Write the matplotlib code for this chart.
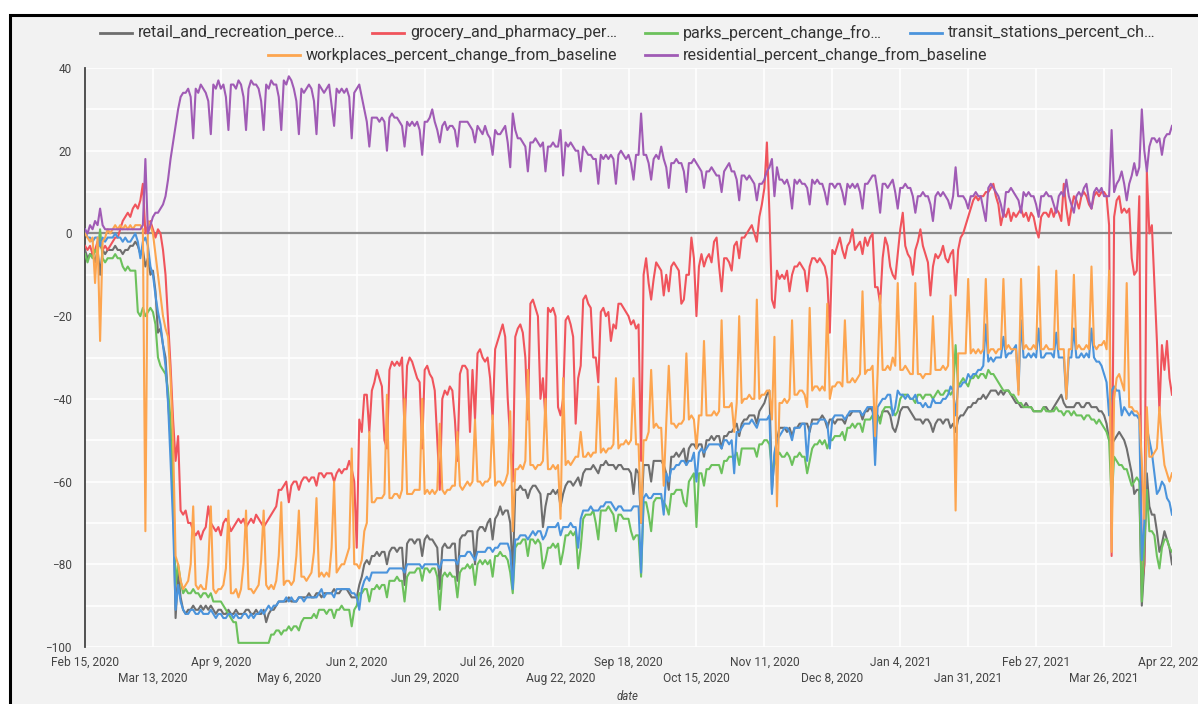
import matplotlib
matplotlib.use('Agg')
import matplotlib.pyplot as plt
from matplotlib.lines import Line2D
from matplotlib.patches import Rectangle
import pandas as pd

plt.rcParams['font.family'] = ['Roboto', 'DejaVu Sans']

# one value per day, Feb 15 2020 .. Apr 22 2021, one row per week (Sat..Fri)
dates = pd.date_range('2020-02-15', '2021-04-22', freq='D')

retail = [
    -4, -6, -5, -5, -7, -4, -10,
    -4, -5, -4, -4, -4, -3, -4,
    -4, -5, -4, -4, -3, -3, -2,
    -3, -5, -4, -8, -6, -10, -9,
    -14, -24, -23, -27, -30, -40, -50,
    -62, -93, -82, -88, -91, -92, -91,
    -91, -90, -91, -91, -90, -91, -90,
    -91, -90, -91, -92, -91, -91, -92,
    -92, -91, -92, -92, -91, -92, -92,
    -92, -91, -91, -92, -92, -91, -92,
    -92, -91, -94, -92, -91, -91, -90,
    -89, -89, -89, -89, -88, -89, -89,
    -89, -88, -88, -88, -88, -87, -88,
    -88, -87, -87, -88, -87, -87, -87,
    -87, -86, -87, -87, -86, -86, -86,
    -87, -88, -88, -88, -85, -83, -80,
    -79, -80, -78, -78, -77, -78, -77,
    -77, -80, -77, -76, -76, -77, -76,
    -76, -85, -75, -74, -74, -75, -74,
    -74, -78, -74, -73, -74, -74, -75,
    -76, -86, -76, -75, -76, -76, -75,
    -75, -84, -74, -73, -73, -72, -72,
    -72, -80, -72, -71, -71, -72, -70,
    -69, -74, -69, -68, -66, -68, -67,
    -67, -70, -82, -62, -62, -61, -62,
    -62, -64, -62, -61, -61, -62, -63,
    -71, -66, -63, -63, -62, -63, -62,
    -66, -63, -61, -60, -60, -61, -60,
    -59, -61, -58, -57, -57, -57, -56,
    -57, -58, -56, -56, -55, -56, -56,
    -56, -57, -56, -56, -57, -57, -57,
    -58, -63, -57, -58, -70, -56, -56,
    -56, -60, -55, -55, -55, -55, -56,
    -58, -62, -54, -54, -53, -54, -53,
    -52, -56, -52, -51, -51, -52, -51,
    -51, -54, -50, -50, -49, -50, -49,
    -49, -52, -49, -49, -48, -48, -47,
    -46, -49, -46, -45, -45, -44, -44,
    -44, -46, -43, -42, -41, -39, -38,
    -62, -54, -50, -47, -47, -47, -48,
    -47, -49, -47, -47, -46, -46, -46,
    -46, -48, -45, -45, -45, -45, -44,
    -45, -47, -45, -45, -46, -45, -45,
    -45, -46, -44, -44, -43, -43, -43,
    -43, -45, -43, -43, -42, -43, -45,
    -44, -45, -43, -43, -43, -44, -47,
    -48, -46, -43, -42, -42, -42, -43,
    -44, -45, -45, -45, -46, -45, -45,
    -46, -48, -46, -45, -45, -46, -45,
    -45, -47, -46, -48, -45, -44, -44,
    -43, -42, -42, -41, -41, -40, -40,
    -39, -40, -39, -38, -38, -38, -39,
    -38, -39, -38, -38, -39, -40, -41,
    -41, -42, -42, -41, -42, -42, -43,
    -43, -43, -43, -42, -42, -43, -43,
    -42, -41, -40, -39, -41, -42, -42,
    -42, -42, -41, -41, -42, -42, -41,
    -41, -42, -42, -42, -43, -43, -44,
    -46, -50, -51, -50, -49, -48, -49,
    -50, -52, -55, -58, -63, -62, -62,
    -90, -80, -58, -66, -68, -68, -72,
    -77, -75, -72, -74, -76, -80,
]

grocery = [
    -3, -4, -3, -5, -4, -2, -3,
    -4, -3, -4, -3, -2, -1, -1,
    1, 3, 4, 5, 4, 6, 7,
    6, 8, 12, 0, 2, 3, 1,
    -1, 1, 0, -4, -10, -21, -32,
    -45, -55, -49, -67, -68, -67, -70,
    -70, -72, -73, -72, -74, -72, -71,
    -66, -70, -71, -72, -71, -73, -70,
    -69, -70, -72, -71, -70, -69, -70,
    -69, -71, -70, -69, -70, -68, -69,
    -70, -71, -70, -69, -68, -67, -66,
    -62, -62, -61, -60, -65, -61, -60,
    -60, -62, -60, -59, -59, -60, -59,
    -59, -61, -58, -58, -59, -58, -58,
    -58, -60, -58, -57, -58, -57, -57,
    -55, -57, -60, -76, -45, -48, -39,
    -39, -48, -38, -36, -33, -35, -37,
    -50, -52, -33, -31, -32, -31, -32,
    -30, -48, -32, -30, -31, -33, -35,
    -36, -52, -33, -32, -34, -35, -38,
    -50, -62, -40, -38, -39, -37, -38,
    -45, -55, -34, -32, -32, -33, -48,
    -33, -45, -29, -28, -30, -31, -30,
    -35, -45, -28, -26, -24, -22, -25,
    -40, -50, -60, -25, -23, -22, -24,
    -30, -45, -17, -16, -18, -20, -40,
    -35, -45, -18, -19, -18, -20, -42,
    -44, -40, -21, -20, -22, -25, -46,
    -35, -32, -16, -15, -17, -18, -30,
    -30, -36, -19, -18, -20, -19, -26,
    -22, -23, -17, -17, -18, -19, -20,
    -22, -21, -23, -22, -55, -10, -6,
    -12, -16, -11, -7, -8, -9, -15,
    -10, -14, -8, -7, -8, -9, -17,
    -16, -10, -10, -1, -6, -20, -8,
    -5, -8, -6, -5, -7, -2, -1,
    -8, -14, -6, -6, -7, -9, -3,
    -2, -6, -1, -1, 0, 1, 2,
    0, -2, 4, 7, 11, 22, 5,
    -16, -18, -9, -11, -10, -11, -9,
    -14, -10, -8, -8, -7, -8, -9,
    -14, -8, -6, -6, -7, -6, -7,
    -8, -11, -24, -4, -5, -3, -1,
    -4, -6, -3, -2, 1, -4, -3,
    -2, -5, -1, -3, -1, 0, -13,
    -13, -17, -6, -1, -3, -8, -10,
    -11, -5, 1, 5, -3, -5, -6,
    -10, -4, -2, 1, -3, -5, -7,
    -15, -8, -5, -6, -5, -3, -6,
    -7, -5, -4, -15, -4, -1, 0,
    2, 4, 6, 8, 9, 8, 9,
    9, 10, 10, 11, 12, 9, 7,
    2, 5, 4, 6, 3, 5, 4,
    5, 6, 4, 5, 3, 5, 4,
    1, -1, 4, 5, 5, 4, 6,
    4, 6, 5, 3, 12, 6, 2,
    6, 9, 8, 6, 9, 10, 9,
    7, 6, 9, 10, 9, 10, 10,
    9, 2, -78, 4, 8, 9, 5,
    6, 5, 6, -6, -10, -9, 9,
    -85, -80, 15, 0, 2, -12, -26,
    -43, -27, -33, -26, -35, -39,
]

parks = [
    -5, -7, -5, -6, -4, -5, 1,
    -6, -7, -6, -6, -6, -5, -6,
    -6, -8, -9, -8, -9, -9, -9,
    -19, -20, -18, -20, -19, -18, -19,
    -22, -30, -32, -33, -34, -38, -45,
    -60, -85, -80, -84, -87, -86, -87,
    -87, -86, -87, -87, -88, -87, -87,
    -88, -87, -89, -89, -89, -89, -90,
    -91, -92, -93, -94, -94, -99, -99,
    -99, -99, -99, -99, -99, -99, -99,
    -99, -99, -99, -99, -97, -97, -96,
    -96, -97, -96, -96, -95, -96, -95,
    -95, -96, -94, -93, -93, -93, -93,
    -92, -93, -91, -91, -91, -92, -91,
    -91, -93, -91, -91, -90, -91, -91,
    -91, -95, -91, -90, -87, -87, -86,
    -86, -89, -86, -86, -85, -86, -85,
    -85, -88, -84, -84, -84, -83, -84,
    -84, -89, -83, -82, -82, -82, -81,
    -81, -84, -81, -81, -82, -81, -81,
    -83, -91, -83, -82, -83, -82, -83,
    -83, -88, -82, -81, -81, -80, -81,
    -80, -85, -80, -79, -80, -79, -80,
    -79, -83, -78, -78, -77, -78, -78,
    -79, -82, -87, -76, -75, -75, -74,
    -74, -78, -74, -74, -75, -74, -75,
    -81, -79, -76, -76, -75, -76, -75,
    -80, -77, -73, -73, -72, -73, -72,
    -81, -76, -69, -68, -68, -68, -67,
    -70, -74, -67, -67, -67, -66, -67,
    -68, -72, -68, -68, -69, -69, -69,
    -72, -74, -73, -73, -83, -65, -65,
    -68, -72, -65, -64, -64, -64, -65,
    -66, -68, -63, -63, -62, -62, -62,
    -65, -66, -60, -59, -58, -71, -58,
    -58, -61, -57, -57, -56, -56, -56,
    -56, -58, -55, -55, -54, -54, -54,
    -53, -56, -52, -52, -52, -52, -52,
    -52, -54, -51, -51, -50, -50, -51,
    -57, -56, -54, -53, -54, -54, -53,
    -54, -56, -54, -54, -53, -54, -54,
    -58, -55, -52, -51, -51, -50, -51,
    -50, -52, -50, -50, -49, -49, -49,
    -48, -50, -47, -47, -46, -47, -46,
    -46, -48, -45, -45, -45, -44, -47,
    -44, -46, -43, -42, -42, -42, -43,
    -44, -43, -40, -39, -39, -39, -40,
    -40, -41, -39, -39, -40, -39, -39,
    -39, -40, -39, -38, -39, -39, -38,
    -38, -39, -38, -27, -37, -36, -35,
    -36, -37, -35, -35, -34, -35, -34,
    -34, -35, -33, -34, -34, -35, -36,
    -37, -38, -38, -38, -39, -39, -40,
    -41, -41, -42, -42, -42, -42, -43,
    -43, -43, -43, -42, -43, -43, -43,
    -43, -42, -43, -43, -44, -43, -43,
    -44, -43, -44, -44, -44, -45, -44,
    -44, -45, -45, -46, -45, -46, -47,
    -48, -50, -65, -54, -55, -56, -56,
    -57, -57, -59, -61, -60, -59, -60,
    -89, -75, -62, -72, -72, -73, -78,
    -81, -76, -74, -74, -76, -77,
]

transit = [
    1, -1, -1, -2, -1, -1, -3,
    -1, -2, -1, -1, -1, 0, -1,
    -1, -2, -1, -2, -2, -1, 0,
    -2, -6, -2, -1, -3, -8, -10,
    -15, -19, -22, -27, -32, -41, -55,
    -70, -91, -85, -89, -91, -92, -92,
    -91, -91, -92, -92, -91, -92, -92,
    -92, -91, -92, -93, -92, -92, -93,
    -93, -92, -92, -93, -92, -93, -93,
    -92, -92, -93, -92, -93, -92, -92,
    -91, -92, -91, -90, -91, -90, -90,
    -89, -89, -89, -88, -89, -88, -89,
    -89, -88, -88, -89, -88, -88, -88,
    -88, -88, -87, -86, -88, -87, -87,
    -87, -88, -86, -86, -86, -86, -86,
    -86, -87, -87, -88, -91, -86, -84,
    -83, -84, -82, -82, -82, -82, -82,
    -82, -82, -81, -81, -81, -81, -81,
    -81, -82, -80, -80, -80, -80, -80,
    -80, -81, -80, -80, -80, -80, -80,
    -80, -81, -79, -79, -79, -79, -79,
    -79, -80, -78, -78, -78, -77, -77,
    -78, -79, -77, -77, -77, -77, -76,
    -76, -77, -76, -76, -75, -75, -75,
    -75, -77, -86, -74, -74, -73, -73,
    -73, -74, -73, -72, -73, -72, -72,
    -74, -73, -71, -71, -71, -71, -70,
    -73, -71, -71, -71, -70, -71, -71,
    -76, -69, -67, -67, -67, -66, -67,
    -67, -67, -66, -66, -65, -65, -65,
    -66, -67, -66, -66, -67, -67, -67,
    -67, -66, -66, -66, -82, -64, -63,
    -64, -64, -63, -63, -63, -63, -68,
    -58, -60, -57, -57, -56, -56, -55,
    -55, -56, -55, -55, -53, -60, -53,
    -52, -53, -52, -51, -51, -51, -51,
    -51, -52, -50, -50, -51, -50, -58,
    -48, -48, -47, -46, -46, -46, -45,
    -46, -47, -45, -45, -45, -45, -44,
    -63, -53, -50, -49, -48, -47, -47,
    -48, -50, -47, -47, -47, -46, -46,
    -55, -47, -46, -46, -46, -45, -45,
    -45, -46, -52, -45, -44, -44, -44,
    -44, -45, -44, -43, -43, -43, -43,
    -43, -44, -43, -42, -42, -42, -56,
    -42, -41, -40, -40, -39, -39, -44,
    -42, -38, -39, -39, -40, -39, -40,
    -40, -39, -41, -41, -42, -41, -42,
    -42, -40, -41, -41, -41, -40, -40,
    -39, -37, -38, -44, -37, -37, -36,
    -36, -34, -35, -34, -34, -33, -33,
    -32, -22, -31, -30, -31, -30, -30,
    -30, -25, -30, -29, -29, -28, -27,
    -38, -21, -30, -30, -29, -30, -29,
    -30, -23, -30, -30, -29, -29, -29,
    -30, -24, -30, -30, -30, -40, -30,
    -30, -23, -30, -30, -29, -30, -29,
    -30, -23, -30, -31, -31, -32, -34,
    -36, -44, -38, -37, -38, -38, -44,
    -42, -43, -44, -43, -44, -44, -45,
    -79, -70, -47, -50, -53, -58, -63,
    -62, -60, -61, -64, -65, -68,
]

workplaces = [
    0, -1, -2, -1, -12, -1, -26,
    -2, -1, 1, 0, 1, 2, 1,
    2, 1, 2, 1, 2, 1, 2,
    2, 2, 1, -72, 3, 2, 0,
    -5, -10, -15, -20, -23, -25, -35,
    -50, -78, -80, -84, -86, -85, -84,
    -80, -66, -85, -86, -85, -86, -86,
    -80, -66, -86, -87, -86, -86, -85,
    -81, -67, -87, -87, -86, -88, -86,
    -80, -67, -86, -86, -87, -86, -85,
    -79, -67, -85, -86, -85, -86, -84,
    -78, -65, -85, -84, -84, -85, -84,
    -78, -67, -83, -83, -84, -83, -82,
    -77, -64, -83, -82, -83, -82, -83,
    -76, -60, -82, -81, -80, -80, -78,
    -76, -52, -80, -80, -81, -79, -72,
    -70, -48, -65, -65, -64, -64, -64,
    -63, -39, -64, -64, -63, -63, -64,
    -62, -40, -63, -63, -63, -62, -62,
    -62, -40, -63, -62, -63, -62, -63,
    -62, -46, -62, -63, -62, -62, -61,
    -61, -48, -61, -62, -61, -60, -61,
    -60, -45, -60, -60, -61, -60, -60,
    -59, -44, -61, -60, -60, -61, -60,
    -58, -43, -72, -57, -57, -56, -57,
    -55, -33, -56, -56, -57, -56, -56,
    -55, -40, -57, -57, -56, -57, -56,
    -69, -35, -56, -55, -56, -55, -54,
    -54, -48, -54, -54, -53, -54, -53,
    -53, -37, -53, -52, -53, -52, -52,
    -51, -35, -52, -51, -51, -50, -51,
    -50, -35, -51, -51, -70, -50, -50,
    -48, -33, -47, -46, -47, -47, -61,
    -46, -32, -46, -46, -47, -46, -46,
    -45, -29, -45, -44, -45, -52, -44,
    -44, -26, -44, -44, -44, -43, -44,
    -43, -21, -42, -42, -42, -41, -48,
    -41, -20, -41, -40, -40, -39, -40,
    -40, -16, -40, -39, -39, -38, -38,
    -45, -25, -66, -41, -41, -40, -41,
    -40, -21, -39, -39, -38, -38, -39,
    -42, -18, -38, -37, -37, -38, -37,
    -38, -17, -40, -37, -37, -36, -36,
    -37, -21, -36, -36, -35, -36, -35,
    -34, -14, -34, -33, -33, -32, -49,
    -34, -15, -33, -33, -32, -33, -30,
    -32, -12, -33, -33, -32, -33, -34,
    -34, -12, -34, -34, -35, -34, -34,
    -34, -20, -33, -33, -33, -32, -33,
    -32, -15, -30, -67, -29, -29, -29,
    -29, -11, -29, -28, -29, -28, -29,
    -28, -11, -29, -28, -28, -29, -28,
    -28, -11, -28, -27, -28, -28, -28,
    -39, -11, -28, -27, -28, -28, -27,
    -28, -8, -28, -28, -27, -28, -28,
    -28, -9, -28, -28, -28, -40, -28,
    -28, -10, -28, -27, -28, -28, -27,
    -28, -8, -27, -28, -27, -27, -26,
    -28, -9, -77, -40, -35, -34, -36,
    -38, -12, -42, -42, -43, -43, -44,
    -55, -69, -42, -54, -54, -53, -52,
    -42, -50, -56, -58, -60, -58,
]

residential = [
    1, 0, 2, 1, 3, 2, 6,
    2, 1, 1, 1, 1, 1, 1,
    1, 1, 1, 1, 1, 1, 1,
    1, 1, 2, 18, 0, 2, 4,
    5, 5, 6, 7, 9, 13, 18,
    22, 26, 30, 33, 34, 34, 35,
    33, 23, 35, 34, 36, 35, 34,
    32, 24, 36, 35, 37, 35, 36,
    33, 25, 36, 36, 35, 37, 36,
    33, 25, 35, 37, 36, 36, 35,
    32, 25, 36, 35, 37, 36, 36,
    33, 25, 37, 36, 38, 37, 35,
    32, 24, 35, 34, 35, 36, 35,
    32, 24, 36, 35, 34, 35, 36,
    31, 26, 35, 34, 35, 34, 35,
    33, 23, 34, 35, 36, 33, 30,
    27, 21, 28, 28, 28, 27, 28,
    27, 20, 28, 29, 28, 28, 27,
    26, 21, 27, 26, 27, 26, 27,
    25, 19, 27, 27, 28, 30, 27,
    25, 22, 26, 27, 25, 26, 26,
    25, 21, 27, 27, 27, 27, 26,
    25, 22, 26, 25, 24, 26, 24,
    23, 19, 25, 24, 24, 25, 26,
    22, 16, 29, 25, 23, 23, 22,
    21, 15, 22, 22, 23, 22, 21,
    22, 15, 21, 21, 22, 21, 21,
    25, 14, 22, 21, 22, 21, 20,
    20, 15, 21, 20, 19, 19, 18,
    18, 12, 19, 18, 19, 18, 19,
    18, 12, 19, 20, 19, 18, 19,
    17, 13, 19, 19, 29, 19, 19,
    17, 13, 18, 19, 18, 21, 18,
    16, 11, 17, 17, 18, 17, 17,
    15, 10, 17, 17, 18, 17, 16,
    15, 11, 15, 15, 16, 15, 14,
    14, 10, 15, 16, 17, 15, 15,
    13, 8, 14, 14, 13, 14, 13,
    12, 8, 12, 12, 13, 15, 16,
    18, 9, 16, 13, 13, 12, 13,
    11, 6, 13, 12, 13, 12, 12,
    11, 7, 13, 12, 13, 12, 12,
    10, 7, 12, 12, 11, 12, 12,
    10, 7, 12, 11, 12, 11, 12,
    10, 6, 12, 12, 13, 14, 14,
    10, 5, 12, 12, 11, 12, 13,
    10, 6, 11, 11, 12, 11, 11,
    9, 5, 9, 9, 10, 9, 9,
    7, 3, 9, 10, 9, 10, 9,
    8, 6, 9, 16, 9, 9, 9,
    8, 6, 9, 9, 10, 9, 9,
    6, 3, 11, 12, 11, 10, 9,
    7, 4, 10, 10, 11, 10, 9,
    8, 5, 10, 9, 10, 9, 9,
    7, 4, 9, 9, 10, 9, 9,
    7, 5, 9, 10, 9, 13, 9,
    7, 5, 9, 10, 9, 11, 12,
    8, 6, 10, 11, 10, 11, 9,
    9, 9, 25, 10, 12, 13, 15,
    12, 8, 12, 14, 17, 14, 16,
    30, 20, 15, 21, 23, 23, 22,
    23, 19, 23, 24, 24, 26,
]

names = ['retail_and_recreation_perce…', 'grocery_and_pharmacy_per…',
         'parks_percent_change_fro…', 'transit_stations_percent_ch…',
         'workplaces_percent_change_from_baseline',
         'residential_percent_change_from_baseline']
values = [retail, grocery, parks, transit, workplaces, residential]
colors = ['#6e6e6e', '#f0545c', '#6cc15c', '#4b94dc', '#fda54f', '#a05bb5']

W, H = 1198, 704


def fx(x):
    return x / W


def fy(y):
    return 1 - y / H


fig = plt.figure(figsize=(W / 100, H / 100), dpi=100)

# grey card with black frame
fig.add_artist(Rectangle((fx(9.5), -0.1), 1.2, fy(14.5) + 0.1,
                         transform=fig.transFigure, facecolor='#f2f2f2',
                         edgecolor='black', linewidth=2.2, zorder=0))

ax = fig.add_axes([fx(85), fy(647), fx(1172) - fx(85), fy(68) - fy(647)])
ax.set_facecolor('#f2f2f2')

for vals, c in zip(values, colors):
    ax.plot(dates, vals, color=c, lw=1.5, zorder=3)

ax.axhline(0, color='#8a8a8a', lw=1.6, zorder=2)

ax.set_xlim(dates[0], dates[-1])
ax.set_ylim(-100, 40)

tick_dates = dates[::27]
ax.set_xticks(tick_dates)
ax.set_xticklabels([f"{d.strftime('%b')} {d.day}, {d.year}" for d in tick_dates])
ax.tick_params(axis='x', length=0, labelsize=8.65, labelcolor='#444444')
for i, t in enumerate(ax.xaxis.get_major_ticks()):
    t.set_pad(6.5 if i % 2 == 0 else 18)

ax.set_yticks(range(-100, 41, 20))
ax.set_yticks(range(-100, 41, 10), minor=True)
ax.tick_params(axis='y', which='both', length=0, labelsize=8.5,
               labelcolor='#444444', pad=9.5)

ax.grid(True, which='both', axis='y', color='white', lw=1.2)
ax.grid(True, which='major', axis='x', color='white', lw=1.2)
ax.set_axisbelow(True)

for s in ['top', 'right', 'bottom']:
    ax.spines[s].set_visible(False)
ax.spines['left'].set_color('#444444')
ax.spines['left'].set_linewidth(1.3)

fig.text(fx(628), fy(697), 'date', ha='center', va='center',
         style='italic', fontsize=8.3, color='#444444')

# legend, drawn by hand to keep the centred two-row layout
legend_rows = [(33, [(100, 0), (372, 1), (645, 2), (910, 3)]),
               (55, [(268, 4), (645, 5)])]
for y, items in legend_rows:
    for x0, k in items:
        fig.add_artist(Line2D([fx(x0), fx(x0 + 32)], [fy(y), fy(y)],
                              transform=fig.transFigure, color=colors[k], lw=2))
        fig.text(fx(x0 + 38), fy(y), names[k], ha='left', va='center',
                 fontsize=11.55, color='#333333')

fig.savefig('out.png', dpi=100, facecolor='white')
